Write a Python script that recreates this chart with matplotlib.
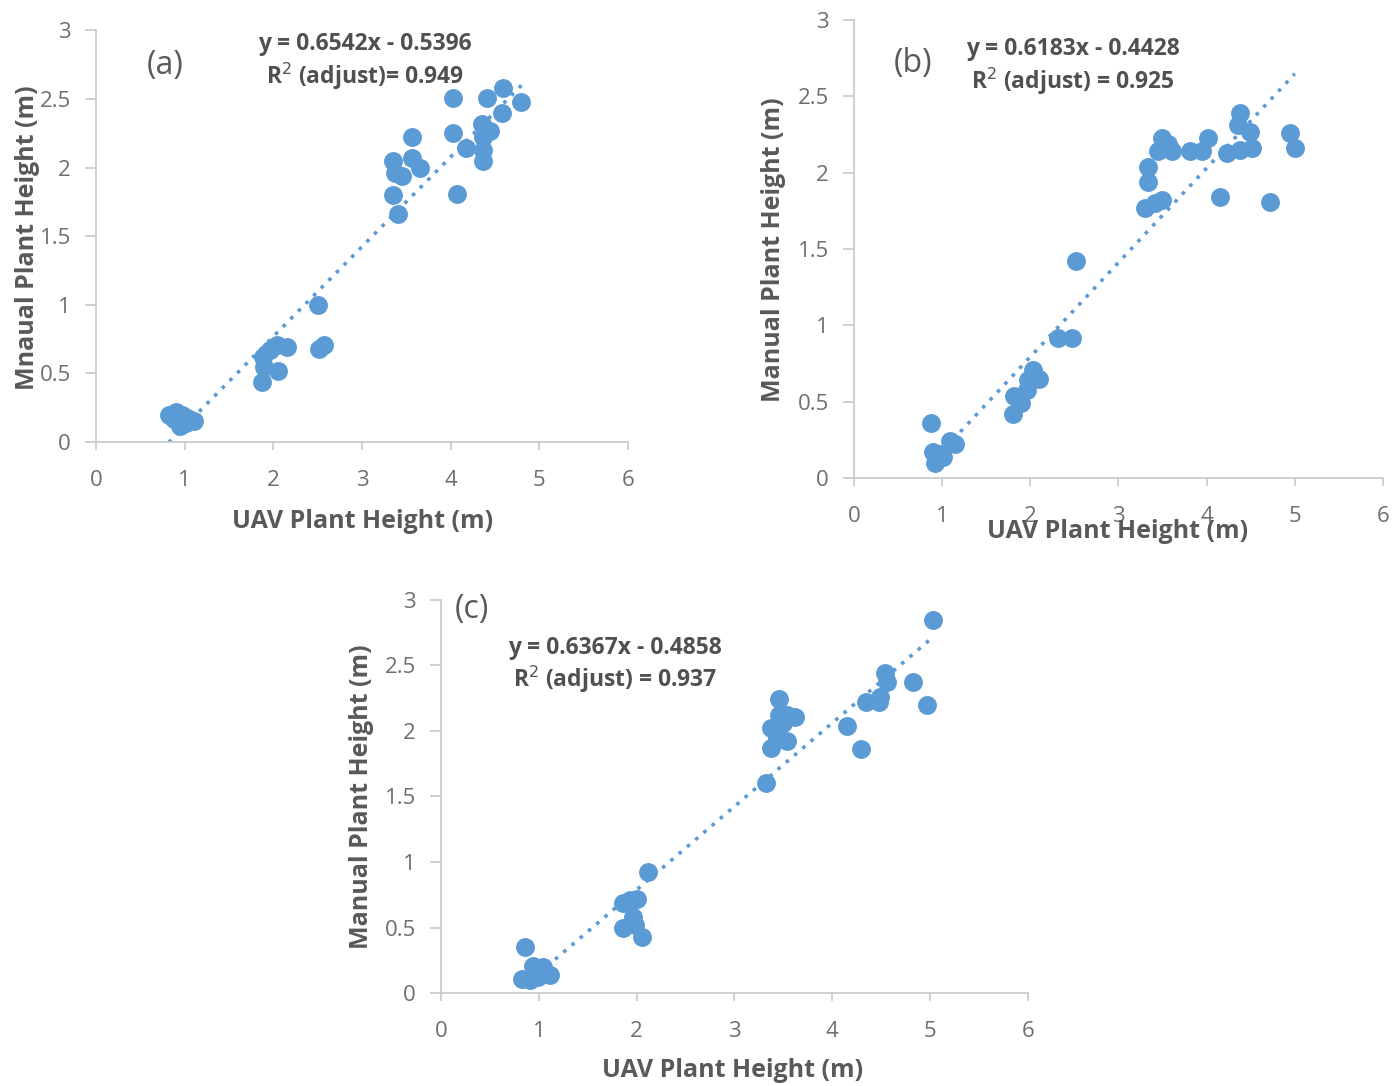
import matplotlib
matplotlib.use("Agg")
import matplotlib.pyplot as plt
import numpy as np

plt.rcParams['font.family'] = ['Open Sans', 'DejaVu Sans']

# ---------------- data ----------------
a_x = [0.82, 0.90, 0.92, 0.95, 1.00, 1.05, 1.10, 0.88, 0.97, 1.02,
       1.88, 2.04, 2.15, 1.87, 2.05, 1.90, 1.96, 2.51, 2.52, 2.57,
       4.03, 4.59, 4.80, 4.41, 4.58, 3.56, 4.03, 4.35, 4.44, 4.37,
       4.18, 4.37, 4.37, 3.35, 3.56, 3.65, 3.37, 3.45, 3.35, 4.07, 3.41]
a_y = [0.20, 0.22, 0.15, 0.12, 0.18, 0.17, 0.15, 0.17, 0.20, 0.14,
       0.62, 0.71, 0.69, 0.44, 0.52, 0.55, 0.67, 1.00, 0.68, 0.71,
       2.51, 2.58, 2.48, 2.51, 2.40, 2.22, 2.25, 2.32, 2.27, 2.22,
       2.14, 2.13, 2.05, 2.05, 2.07, 2.00, 1.96, 1.94, 1.80, 1.81, 1.66]

b_x = [0.87, 0.90, 0.92, 1.09, 1.15, 1.01, 0.98,
       1.81, 1.90, 1.96, 1.97, 2.03, 2.10, 1.80, 2.52, 2.31, 2.47,
       3.30, 3.41, 3.49, 3.33, 3.33, 3.49, 3.45, 3.56, 3.61, 3.81,
       3.95, 4.01, 4.23, 4.38, 4.36, 4.49, 4.51, 4.38, 4.15, 4.72, 4.94, 5.00]
b_y = [0.36, 0.17, 0.10, 0.24, 0.22, 0.14, 0.16,
       0.54, 0.49, 0.58, 0.64, 0.71, 0.65, 0.42, 1.42, 0.92, 0.92,
       1.77, 1.80, 1.82, 1.94, 2.04, 2.23, 2.14, 2.19, 2.14, 2.14,
       2.14, 2.23, 2.13, 2.39, 2.31, 2.27, 2.16, 2.15, 1.84, 1.81, 2.26, 2.16]

c_x = [0.86, 0.83, 0.94, 0.91, 1.04, 1.11, 0.99,
       1.86, 2.00, 1.96, 1.98, 1.86, 2.05, 1.93, 2.12,
       5.03, 4.82, 4.97, 4.54, 4.56, 4.49, 4.48, 4.34, 4.15, 4.29,
       3.46, 3.46, 3.50, 3.62, 3.54, 3.37, 3.54, 3.37, 3.43, 3.32]
c_y = [0.35, 0.11, 0.21, 0.10, 0.20, 0.14, 0.12,
       0.69, 0.72, 0.58, 0.52, 0.50, 0.43, 0.71, 0.92,
       2.85, 2.37, 2.20, 2.44, 2.37, 2.26, 2.22, 2.22, 2.04, 1.86,
       2.24, 2.12, 2.06, 2.11, 2.12, 2.02, 1.92, 1.87, 1.95, 1.60]

a_fit = (0.6542, -0.5396)
b_fit = (0.6183, -0.4428)
c_fit = (0.6367, -0.4858)

x_ticks = [0, 1, 2, 3, 4, 5, 6]
y_ticks = [0, 0.5, 1, 1.5, 2, 2.5, 3]
y_tick_labels = ["0", "0.5", "1", "1.5", "2", "2.5", "3"]

BLUE = "#5B9BD5"
GRAY = "#595959"
TICKGRAY = "#6E6E6E"
SPINE = "#C8C8C8"

fig = plt.figure(figsize=(13.92, 10.86), dpi=100)


def panel(rect, xs, ys, fit, letter, letter_pos, eq, r2, eq_pos, ylabel, ylab_pos, xlab_pos):
    ax = fig.add_axes(rect)
    ax.scatter(xs, ys, s=185, color=BLUE, zorder=3, linewidths=0)
    xl = np.array([min(xs), max(xs)])
    ax.plot(xl, fit[0] * xl + fit[1], linestyle=(0, (1, 2)), color=BLUE, lw=2.6, zorder=2)
    ax.set_xlim(0, 6)
    ax.set_ylim(0, 3)
    ax.set_xticks(x_ticks)
    ax.set_xticklabels([str(t) for t in x_ticks])
    ax.set_yticks(y_ticks)
    ax.set_yticklabels(y_tick_labels)
    for s in ["top", "right"]:
        ax.spines[s].set_visible(False)
    for s in ["left", "bottom"]:
        ax.spines[s].set_color(SPINE)
        ax.spines[s].set_linewidth(1.2)
    ax.tick_params(axis="x", direction="out", length=6, width=1.2, color=SPINE, pad=14,
                   labelsize=16, labelcolor=TICKGRAY)
    ax.tick_params(axis="y", direction="out", length=8, width=1.2, color=SPINE, pad=10,
                   labelsize=16, labelcolor=TICKGRAY)
    ax.text(letter_pos[0], letter_pos[1], letter, transform=ax.transAxes,
            fontsize=23, color=GRAY, ha="center", va="center")
    ax.text(eq_pos[0], eq_pos[1], eq, transform=ax.transAxes, fontsize=16.5,
            fontweight="bold", color="#505050", ha="center", va="center")
    ax.text(eq_pos[0], eq_pos[2], r2, transform=ax.transAxes, fontsize=16.5,
            fontweight="bold", color="#505050", ha="center", va="center")
    ax.text(ylab_pos[0], ylab_pos[1], ylabel, transform=ax.transAxes, rotation=90,
            fontsize=18, fontweight="bold", color=GRAY, ha="center", va="center")
    ax.text(xlab_pos[0], xlab_pos[1], "UAV Plant Height (m)", transform=ax.transAxes,
            fontsize=18, fontweight="bold", color=GRAY, ha="center", va="center")
    return ax


panel([0.069, 0.593, 0.382, 0.379], a_x, a_y, a_fit, "(a)", (0.13, 0.915),
      "y = 0.6542x - 0.5396", r"R$^2$ (adjust)= 0.949", (0.506, 0.966, 0.888),
      "Mnaual Plant Height (m)", (-0.128, 0.497), (0.502, -0.194))

panel([0.6135, 0.5598, 0.380, 0.4217], b_x, b_y, b_fit, "(b)", (0.112, 0.906),
      "y = 0.6183x - 0.4428", r"R$^2$ (adjust) = 0.925", (0.414, 0.937, 0.867),
      "Manual Plant Height (m)", (-0.153, 0.498), (0.499, -0.116))

panel([0.3168, 0.0856, 0.4217, 0.362], c_x, c_y, c_fit, "(c)", (0.053, 0.975),
      "y = 0.6367x - 0.4858", r"R$^2$ (adjust) = 0.937", (0.296, 0.878, 0.799),
      "Manual Plant Height (m)", (-0.135, 0.5), (0.497, -0.196))

fig.savefig("out.png", dpi=100, facecolor="white")
